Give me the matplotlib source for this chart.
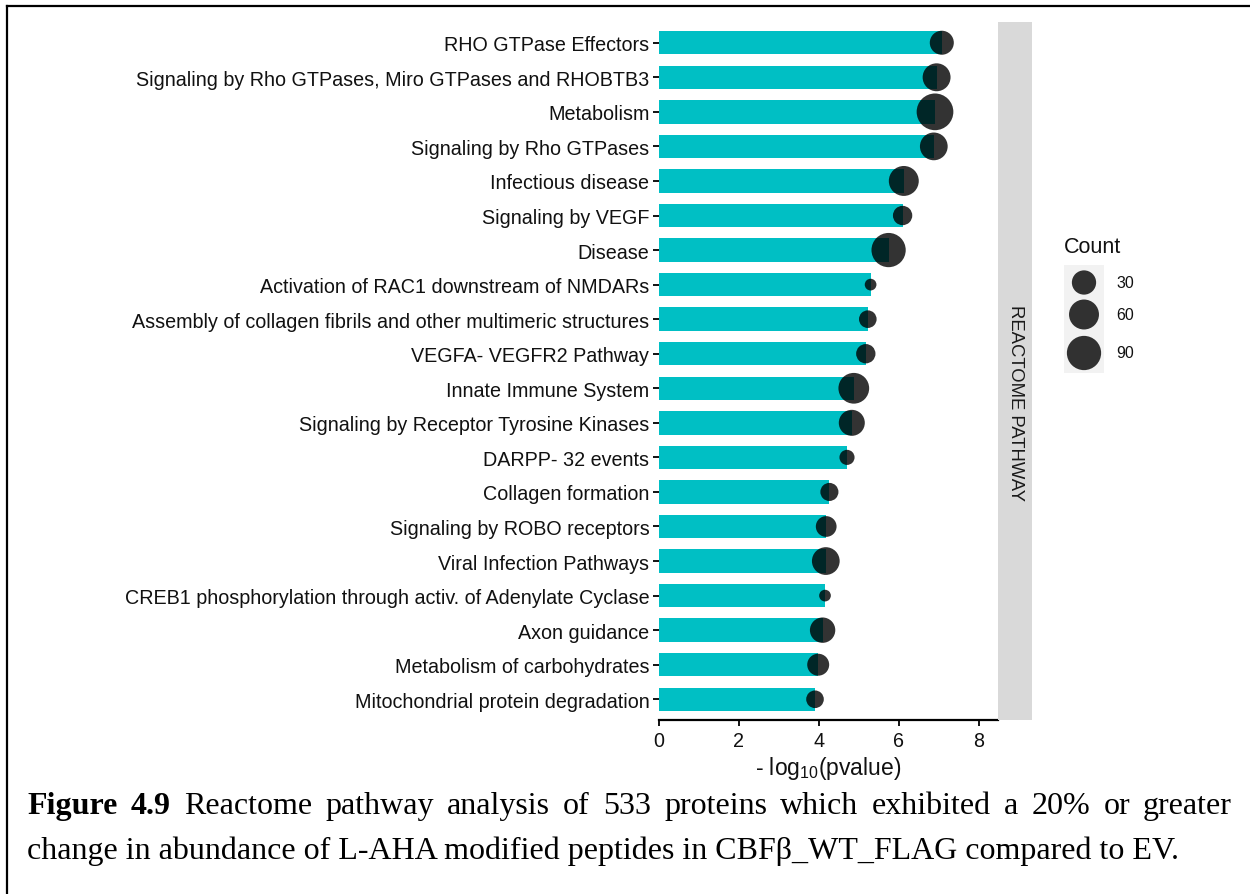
import numpy as np
import matplotlib
matplotlib.use("Agg")
import matplotlib.pyplot as plt
from matplotlib.lines import Line2D

# * Data

pathways = [
    "RHO GTPase Effectors",
    "Signaling by Rho GTPases, Miro GTPases and RHOBTB3",
    "Metabolism",
    "Signaling by Rho GTPases",
    "Infectious disease",
    "Signaling by VEGF",
    "Disease",
    "Activation of RAC1 downstream of NMDARs",
    "Assembly of collagen fibrils and other multimeric structures",
    "VEGFA- VEGFR2 Pathway",
    "Innate Immune System",
    "Signaling by Receptor Tyrosine Kinases",
    "DARPP- 32 events",
    "Collagen formation",
    "Signaling by ROBO receptors",
    "Viral Infection Pathways",
    "CREB1 phosphorylation through activ. of Adenylate Cyclase",
    "Axon guidance",
    "Metabolism of carbohydrates",
    "Mitochondrial protein degradation",
]
neg_log_p = [7.07, 6.94, 6.90, 6.87, 6.12, 6.09, 5.74, 5.29, 5.22, 5.17,
             4.87, 4.82, 4.70, 4.26, 4.18, 4.17, 4.15, 4.09, 3.98, 3.90]
counts = [29, 48, 110, 47, 60, 13, 90, 3, 9, 13,
          65, 38, 5, 10, 17, 47, 3, 35, 21, 9]

legend_counts = [30, 60, 90]
x_ticks = [0, 2, 4, 6, 8]

caption_line1 = [("Figure", "bold"), ("4.9", "bold"), ("Reactome", "normal"),
                 ("pathway", "normal"), ("analysis", "normal"), ("of", "normal"),
                 ("533", "normal"), ("proteins", "normal"), ("which", "normal"),
                 ("exhibited", "normal"), ("a", "normal"), ("20%", "normal"),
                 ("or", "normal"), ("greater", "normal")]
caption_line2 = "change in abundance of L-AHA modified peptides in CBF\u03b2_WT_FLAG compared to EV."

# * Style

BAR_COLOR = "#00BFC4"
TEXT_COLOR = "#111111"
DPI = 100
W, H = 1250, 895
SANS = "Liberation Sans"
SERIF = "Liberation Serif"

plt.rcParams["font.family"] = [SANS, "DejaVu Sans"]
plt.rcParams["mathtext.fontset"] = "custom"
plt.rcParams["mathtext.rm"] = SANS
plt.rcParams["mathtext.it"] = SANS + ":italic"


def count_to_size(c):
    """Area-style size scale, like ggplot's scale_size (diameter in px -> pt^2)."""
    c = np.asarray(c, dtype=float)
    d_px = 11.7 + 25.0 * np.sqrt((c - 3) / (110 - 3))
    d_pt = d_px * 72 / DPI
    return d_pt ** 2


def fx(px):
    return px / W


def fy(py):
    return 1 - py / H


fig = plt.figure(figsize=(W / DPI, H / DPI), dpi=DPI)

# * Main panel

ax = fig.add_axes([fx(659), fy(721), fx(998) - fx(659), fy(23) - fy(721)])
y = np.arange(len(pathways))
ax.barh(y, neg_log_p, height=0.68, color=BAR_COLOR, zorder=1)
ax.scatter(neg_log_p, y, s=count_to_size(counts), color="black", alpha=0.8,
           linewidths=0, zorder=2, clip_on=False)

ax.set_xlim(0, 8.475)
ax.set_ylim(len(pathways) - 1 + 0.6, -0.6)
ax.set_yticks(y)
ax.set_yticklabels(pathways, fontsize=14.2, color=TEXT_COLOR)
ax.set_xticks(x_ticks)
ax.set_xticklabels([str(t) for t in x_ticks], fontsize=14.2, color=TEXT_COLOR)
ax.tick_params(axis="both", length=4, width=1.3, color="black", pad=3)
ax.tick_params(axis="x", pad=4)
for side in ["left", "right", "top"]:
    ax.spines[side].set_visible(False)
ax.spines["bottom"].set_linewidth(1.6)
ax.set_xlabel(r"- log$_{10}$(pvalue)", fontsize=16.5, labelpad=3, color=TEXT_COLOR)

# * Facet strip

strip = fig.add_axes([fx(998), fy(721), fx(1032) - fx(998), fy(23) - fy(721)])
strip.set_facecolor("#D9D9D9")
strip.set_xticks([])
strip.set_yticks([])
for s in strip.spines.values():
    s.set_visible(False)
strip.text(fx(1015), fy(403), "REACTOME PATHWAY", rotation=270, ha="center", va="center",
           fontsize=13.3, color="#1A1A1A", transform=fig.transFigure)

# * Size legend

fig.text(fx(1064), fy(248), "Count", fontsize=15.5, ha="left", va="center", color=TEXT_COLOR)
leg = fig.add_axes([fx(1064), fy(374), fx(1104) - fx(1064), fy(266) - fy(374)])
leg.set_facecolor("#F2F2F2")
leg.set_xlim(0, 1)
leg.set_ylim(374, 266)
leg_y = [283.5, 315.5, 354]
leg.scatter([0.5] * len(legend_counts), leg_y, s=count_to_size(legend_counts),
            color="black", alpha=0.8, linewidths=0)
for lc, ly in zip(legend_counts, leg_y):
    fig.text(fx(1116), fy(ly), str(lc), fontsize=11.5, ha="left", va="center", color=TEXT_COLOR)
leg.set_xticks([])
leg.set_yticks([])
for s in leg.spines.values():
    s.set_visible(False)

# * Frame lines

fig.add_artist(Line2D([fx(7), fx(7)], [fy(7), 0], color="black", linewidth=1.6))
fig.add_artist(Line2D([fx(7), 1], [fy(7), fy(7)], color="black", linewidth=1.6))

# * Caption (first line justified)

CAP_SIZE = 23
renderer = fig.canvas.get_renderer()
words = []
total = 0
for word, weight in caption_line1:
    t = fig.text(0, fy(814), word, fontsize=CAP_SIZE, family=SERIF, weight=weight,
                 ha="left", va="baseline")
    w = t.get_window_extent(renderer).width
    words.append((t, w))
    total += w
left, right = 27, 1232
gap = (right - left - total) / (len(words) - 1)
xpos = left
for t, w in words:
    t.set_x(fx(xpos))
    xpos += w + gap

fig.text(fx(27), fy(859), caption_line2, fontsize=CAP_SIZE, family=SERIF,
         ha="left", va="baseline")

fig.savefig("out.png", dpi=DPI)
